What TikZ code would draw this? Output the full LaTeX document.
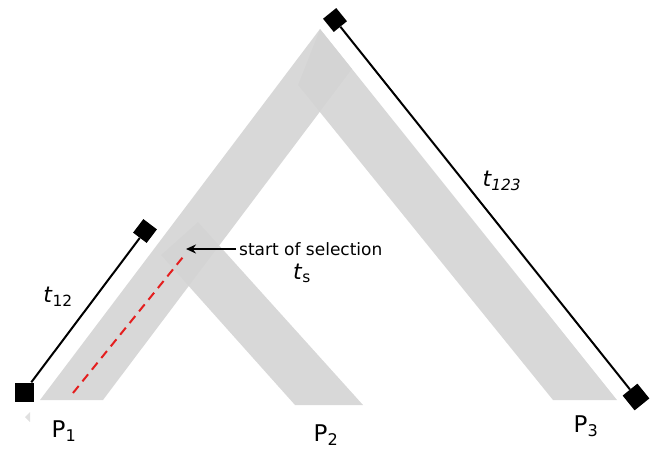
\documentclass[tikz,border=0pt]{standalone}
\usepackage{fontspec}
\setmainfont{DejaVu Sans}
\usepackage{tikz}
\usetikzlibrary{arrows.meta, positioning}
\definecolor{BandGray}{RGB}{212, 212, 212}
\definecolor{SelectRed}{RGB}{228, 30, 30}

\begin{document}
\begin{tikzpicture}[x=1pt, y=-1pt,
    band/.style={fill=BandGray, fill opacity=0.9, draw=none},
    marker/.style={fill=black, inner sep=0pt, minimum size=17pt},
    tlabel/.style={font=\fontsize{22}{25}\selectfont, inner sep=0pt},
    plabel/.style={font=\fontsize{23}{26}\selectfont, inner sep=0pt}]
  \useasboundingbox (0,0) rectangle (654,448);

  % lineage bands
  \fill[band] (40,400) -- (103,400) -- (352,69) -- (320,29) -- cycle;
  \fill[band] (320,29) -- (617,400) -- (553,400) -- (298,85) -- cycle;
  \fill[band] (295,405) -- (363,405) -- (198,222) -- (161,255) -- cycle;
  \fill[black!12] (30,412) -- (30,422) -- (25,417) -- cycle;

  % selection
  \coordinate (selbot) at (73,393);
  \coordinate (seltop) at (183,257);
  \coordinate (selhead) at (186,249);
  \draw[SelectRed, line width=2pt, dash pattern=on 9pt off 6pt] (selbot) -- (seltop);
  \node[anchor=west, inner sep=3pt, font=\fontsize{17}{20}\selectfont] (sellbl) at (236,249) {start of selection};
  \draw[-{Stealth[length=10pt, width=9pt]}, line width=2pt] (sellbl.west) -- (selhead);
  \node[tlabel] (ts) at (302,273) {\textit{t}\textsubscript{s}};

  % time spans
  \node[marker, minimum size=19pt] (t12bot) at (24,392) {};
  \node[marker, rotate=53] (t12top) at (145,231) {};
  \node[marker, rotate=39] (t123top) at (335,20) {};
  \node[marker, rotate=39, minimum size=19pt] (t123bot) at (636,397) {};
  \draw[line width=2pt] (t12bot) -- (t12top);
  \draw[line width=2pt] (t123top) -- (t123bot);
  \node[tlabel] (t12) at (58,297) {\textit{t}\textsubscript{12}};
  \node[tlabel] (t123) at (502,181) {\textit{t\textsubscript{123}}};

  % populations
  \node[plabel] (p1) at (64,431) {P\textsubscript{1}};
  \node[plabel] (p2) at (326,435) {P\textsubscript{2}};
  \node[plabel] (p3) at (586,426) {P\textsubscript{3}};
\end{tikzpicture}
\end{document}
